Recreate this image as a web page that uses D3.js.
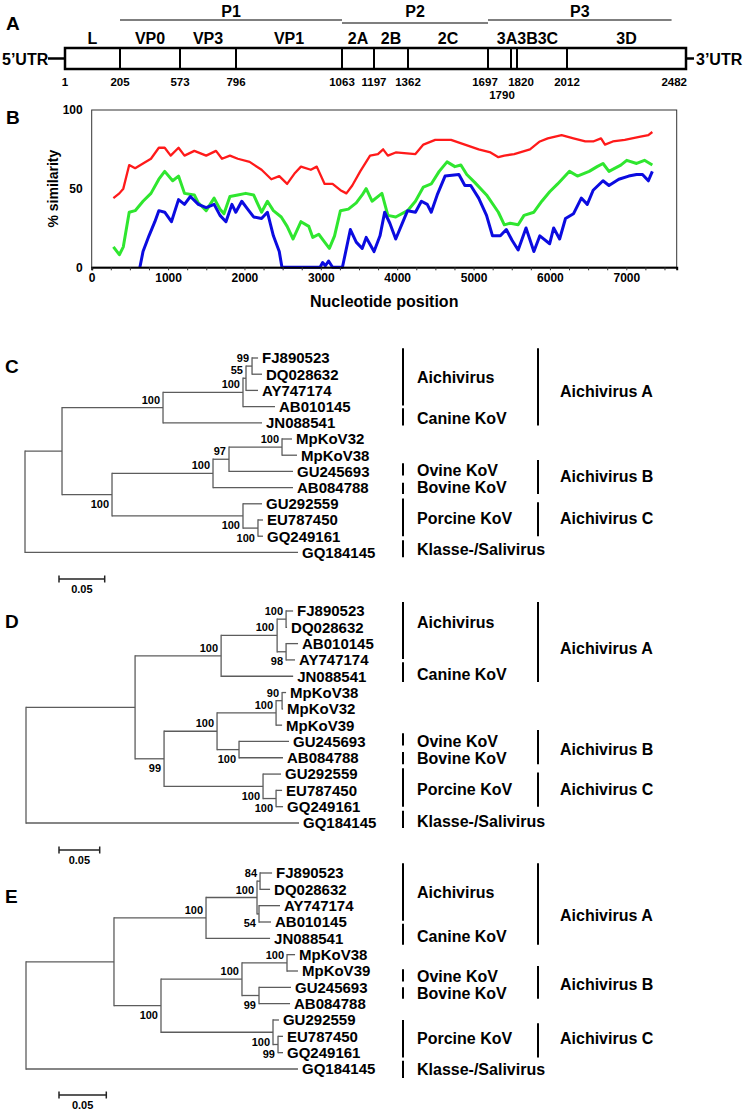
<!DOCTYPE html>
<html><head><meta charset="utf-8">
<script src="https://cdn.jsdelivr.net/npm/d3@7"></script>
<style>
body{margin:0;background:#fff}
svg{display:block}
text{font-family:"Liberation Sans",Arial,Helvetica,sans-serif;font-weight:bold;fill:#000}
</style>
</head><body>
<svg id="fig" width="745" height="1113"></svg>
<script>
// ---------------- Panel A data ----------------
const genomeBounds = [1, 205, 573, 796, 1063, 1197, 1362, 1697, 1790, 1820, 2012, 2482];
const genomeRegions = [["L",1,205],["VP0",205,573],["VP3",573,796],["VP1",796,1063],["2A",1063,1197],["2B",1197,1362],["2C",1362,1697],["3A3B3C",1697,2012],["3D",2012,2482]];
const polyproteins = [["P1",205,1063],["P2",1063,1697],["P3",1697,2425]];
const boundaryLabels = [1,205,573,796,1063,1197,1362,1697,1820,2012,2482];
const lowerBoundaryLabels = [1790];

// ---------------- Panel B data ----------------
const xTicksB = [0,1000,2000,3000,4000,5000,6000,7000];
const yTicksB = [0,50,100];
const seriesRed = [[284,44],[362,47],[414,50],[491,65],[569,63],[672,66],[776,69],[879,76],[956,76],[1034,71],[1137,76],[1215,71],[1344,74],[1499,71],[1628,74],[1706,69],[1810,71],[1913,69],[2068,67],[2224,62],[2352,56],[2456,58],[2559,53],[2662,60],[2740,64],[2869,62],[2947,64],[3050,53],[3154,53],[3257,49],[3335,47],[3412,52],[3516,61],[3645,71],[3748,72],[3816,75],[3878,71],[3981,73],[4239,72],[4343,78],[4498,81],[4705,81],[4886,78],[5067,75],[5222,73],[5325,70],[5403,71],[5532,72],[5739,75],[5868,80],[5972,82],[6153,84],[6308,82],[6463,80],[6566,80],[6669,82],[6721,78],[6824,80],[6980,81],[7186,83],[7289,84],[7341,86]];
const seriesGreen = [[284,13],[362,8],[414,13],[491,35],[569,36],[672,42],[776,47],[879,56],[956,61],[1060,55],[1137,58],[1215,47],[1344,46],[1396,41],[1499,36],[1603,44],[1680,37],[1732,34],[1810,45],[1913,46],[2017,47],[2120,46],[2224,35],[2301,42],[2379,36],[2482,32],[2559,26],[2637,18],[2740,29],[2843,26],[2895,19],[2973,21],[3050,16],[3112,12],[3180,20],[3257,36],[3361,37],[3464,41],[3542,46],[3594,50],[3671,42],[3800,47],[3878,33],[3981,32],[4136,36],[4239,42],[4343,51],[4446,53],[4550,61],[4653,67],[4756,64],[4834,65],[4911,59],[5015,54],[5170,46],[5325,35],[5403,27],[5480,28],[5584,27],[5661,33],[5790,35],[5894,42],[5997,48],[6101,53],[6256,61],[6360,58],[6514,61],[6618,64],[6695,66],[6773,61],[6928,65],[7006,68],[7135,66],[7238,68],[7341,65]];
const seriesBlue = [[631,0],[672,10],[750,20],[827,29],[879,36],[956,35],[1044,29],[1137,43],[1215,40],[1292,45],[1396,40],[1499,38],[1603,40],[1680,33],[1758,29],[1836,40],[1887,35],[1965,42],[2042,37],[2120,32],[2224,31],[2301,35],[2379,20],[2456,10],[2491,0],[2990,0],[3024,3],[3060,1],[3102,4],[3154,0],[3283,0],[3387,24],[3464,16],[3542,12],[3594,19],[3697,10],[3775,20],[3836,35],[3904,28],[3981,18],[4058,27],[4136,36],[4239,35],[4317,42],[4394,40],[4446,35],[4524,46],[4627,58],[4808,59],[4886,52],[4963,52],[5067,44],[5170,33],[5248,20],[5351,20],[5429,24],[5506,17],[5584,11],[5687,25],[5790,10],[5868,20],[5997,15],[6049,25],[6127,18],[6204,31],[6308,34],[6411,44],[6489,40],[6566,49],[6695,55],[6773,52],[6902,56],[7032,58],[7135,59],[7212,59],[7289,55],[7341,61]];

// ---------------- Panels C, D, E data (Newick, bootstrap as node labels) ----------------
const treeC = "((((((FJ890523:0.0066,DQ028632:0.0109)99:0.0066,AY747174:0.0131)55:0.0033,AB010145:0.035)100:0.0875,JN088541:0.1083)100:0.1105,((((MpKoV32:0.0109,MpKoV38:0.0164)100:0.058,GU245693:0.07)97:0.0175,AB084788:0.0875)100:0.1105,(GU292559:0.0208,(EU787450:0.0055,GQ249161:0.0055)100:0.0164)100:0.1433)100:0.0547):0.0405,GQ184145:0.2987);";
const treeD = "(((((FJ890523:0.0086,DQ028632:0.0012)100:0.011,(AB010145:0.0147,AY747174:0.011)98:0.011)100:0.0688,JN088541:0.0885)100:0.1057,((((MpKoV38:0.0049,MpKoV32:0.0012)90:0.0074,MpKoV39:0.0074)100:0.0725,(GU245693:0.0614,AB084788:0.054)100:0.027)100:0.0651,(GU292559:0.0221,(EU787450:0.0074,GQ249161:0.0086)100:0.016)100:0.1216)99:0.0356):0.134,GQ184145:0.3354);";
const treeE = "(((((FJ890523:0.0127,DQ028632:0.0106)84:0.0032,(AY747174:0.0222,AB010145:0.0127)54:0.0021)100:0.0539,JN088541:0.0677)100:0.0973,(((MpKoV38:0.0085,MpKoV39:0.0116)100:0.0476,(GU245693:0.0338,AB084788:0.0328)99:0.018)100:0.0856,(GU292559:0.0063,(EU787450:0.0053,GQ249161:0.0053)99:0.0053)100:0.1184)100:0.0497):0.093,GQ184145:0.2875);";
const scaleBarValue = 0.05;

// clade annotations: [label, column, fromLeafIndex, toLeafIndex, labelAtLeafIndex]
const cladesC = [["Aichivirus",1,-0.6,2.93,1.17],["Canine KoV",1,3.1,4.16,3.7],["Aichivirus A",2,-0.6,4.16,2.05],["Ovine KoV",1,6.5,7.25,6.9],["Bovine KoV",1,7.7,8.4,8.0],["Aichivirus B",2,6.3,8.4,7.3],["Porcine KoV",1,8.67,11.0,9.9],["Aichivirus C",2,8.9,11.0,9.9],["Klasse-/Salivirus",1,11.25,12.3,11.8]];
const cladesD = [["Aichivirus",1,-0.55,2.95,0.7],["Canine KoV",1,3.15,4.35,3.9],["Aichivirus A",2,-0.55,4.35,2.3],["Ovine KoV",1,7.5,8.25,8.0],["Bovine KoV",1,8.65,9.4,9.0],["Aichivirus B",2,7.3,9.4,8.5],["Porcine KoV",1,9.65,12.0,10.9],["Aichivirus C",2,9.9,12.0,10.9],["Klasse-/Salivirus",1,12.25,13.3,12.9]];
const cladesE = [["Aichivirus",1,-0.6,2.93,1.2],["Canine KoV",1,3.1,4.4,3.9],["Aichivirus A",2,-0.6,4.4,2.6],["Ovine KoV",1,5.9,6.65,6.3],["Bovine KoV",1,7.0,7.7,7.35],["Aichivirus B",2,5.7,7.7,6.8],["Porcine KoV",1,9.0,11.3,10.1],["Aichivirus C",2,9.2,11.3,10.1],["Klasse-/Salivirus",1,11.5,12.55,12.0]];
// support labels drawn below the branch (node identified by first|last leaf)
const belowC = ["MpKoV32|GQ249161","GU292559|GQ249161","EU787450|GQ249161"];
const belowD = ["AB010145|AY747174","MpKoV38|GQ249161","GU245693|AB084788","GU292559|GQ249161","EU787450|GQ249161"];
const belowE = ["AY747174|AB010145","MpKoV38|GQ249161","GU245693|AB084788","GU292559|GQ249161","EU787450|GQ249161"];

// =====================================================================
const svg = d3.select("#fig");

function panelLabel(t, x, y){
  svg.append("text").attr("x",x).attr("y",y).attr("font-size",19).text(t);
}

// ---------------- Panel A (schematic, piecewise genome scale) ----------------
(function(){
  const g = svg.append("g");
  const x = d3.scaleLinear().domain(genomeBounds)
    .range([65,120,180,236,342,374,408,488,511,517,567,686]);
  const labelShift = {1697:-3, 1820:4};
  const boxTop = 48, boxBot = 69, mid = (boxTop+boxBot)/2;
  panelLabel("A", 6, 30);
  polyproteins.forEach((p,i)=>{
    const ly = i===1 ? 23 : 20;
    g.append("line").attr("x1",x(p[1])).attr("x2",x(p[2])).attr("y1",ly).attr("y2",ly).attr("stroke","#000").attr("stroke-width",1.2);
    g.append("text").attr("x",(x(p[1])+x(p[2]))/2).attr("y",17).attr("text-anchor","middle").attr("font-size",16).text(p[0]);
  });
  genomeRegions.forEach(r=>{
    g.append("text").attr("x",(x(r[1])+x(r[2]))/2).attr("y",44).attr("text-anchor","middle").attr("font-size",16).text(r[0]);
  });
  g.append("line").attr("x1",48).attr("x2",x(1)).attr("y1",mid).attr("y2",mid).attr("stroke","#000").attr("stroke-width",2.5);
  g.append("line").attr("x1",x(2482)).attr("x2",x(2482)+8).attr("y1",mid).attr("y2",mid).attr("stroke","#000").attr("stroke-width",2.5);
  g.append("text").attr("x",2).attr("y",mid+6).attr("font-size",16).text("5\u2019UTR");
  g.append("text").attr("x",x(2482)+10).attr("y",mid+6).attr("font-size",16).text("3\u2019UTR");
  g.append("rect").attr("x",x(1)).attr("y",boxTop).attr("width",x(2482)-x(1)).attr("height",boxBot-boxTop).attr("fill","none").attr("stroke","#000").attr("stroke-width",2.5);
  genomeBounds.slice(1,-1).forEach(b=>{
    g.append("line").attr("x1",x(b)).attr("x2",x(b)).attr("y1",boxTop).attr("y2",boxBot).attr("stroke","#000").attr("stroke-width",2);
  });
  boundaryLabels.forEach((b,i)=>{
    const last = i===boundaryLabels.length-1;
    g.append("text").attr("x",last ? x(b)+1 : x(b)+(labelShift[b]||0)).attr("y",86)
      .attr("text-anchor",last ? "end" : "middle").attr("font-size",11.5).text(b);
  });
  lowerBoundaryLabels.forEach(b=>{
    g.append("text").attr("x",x(b)-9).attr("y",99).attr("text-anchor","middle").attr("font-size",11.5).text(b);
  });
})();

// ---------------- Panel B ----------------
(function(){
  const g = svg.append("g");
  const x = d3.scaleLinear().domain([0,7660]).range([91.7,676.7]);
  const y = d3.scaleLinear().domain([0,100]).range([267.3,110]);
  panelLabel("B", 6, 124);
  g.append("rect").attr("x",x(0)).attr("y",y(100)).attr("width",x(7660)-x(0)).attr("height",y(0)-y(100))
    .attr("fill","none").attr("stroke","#333").attr("stroke-width",1);
  const line = d3.line().x(d=>x(d[0])).y(d=>y(d[1]));
  [[seriesRed,"#ff1a1a",2.3],[seriesGreen,"#2fe62f",3],[seriesBlue,"#0b0be0",3]].forEach(s=>{
    g.append("path").datum(s[0]).attr("d",line).attr("fill","none").attr("stroke",s[1]).attr("stroke-width",s[2]).attr("stroke-linejoin","round");
  });
  const ax = g.append("g").attr("transform",`translate(0,${y(0)})`)
    .call(d3.axisBottom(x).tickValues(d3.range(0,7660,250)).tickSize(3).tickPadding(3)
      .tickFormat(v=> xTicksB.includes(v) ? v : ""));
  ax.select(".domain").attr("stroke","#000").attr("stroke-width",2);
  ax.selectAll(".tick line").attr("stroke","#333");
  ax.selectAll(".tick text").attr("font-size",12).attr("font-family","Liberation Sans, Arial, sans-serif").attr("font-weight","bold");
  const ay = g.append("g").attr("transform",`translate(${x(0)},0)`)
    .call(d3.axisLeft(y).tickValues(yTicksB).tickSize(0).tickPadding(9));
  ay.select(".domain").remove();
  ay.selectAll(".tick text").attr("font-size",12).attr("font-family","Liberation Sans, Arial, sans-serif").attr("font-weight","bold");
  g.append("text").attr("transform",`translate(58,${y(50)}) rotate(-90)`).attr("text-anchor","middle").attr("font-size",14).text("% similarity");
  g.append("text").attr("x",(x(0)+x(7660))/2).attr("y",307).attr("text-anchor","middle").attr("font-size",16).text("Nucleotide position");
})();

// ---------------- Trees ----------------
function parseNewick(s){
  let i=0;
  function node(){
    const n={children:[],name:"",length:0};
    if(s[i]==='('){
      i++;
      n.children.push(node());
      while(s[i]===','){i++; n.children.push(node());}
      i++;
    }
    let lab="";
    while(i<s.length && !",():;".includes(s[i])) lab+=s[i++];
    n.name=lab;
    if(s[i]===':'){
      i++; let num="";
      while(i<s.length && !",();".includes(s[i])) num+=s[i++];
      n.length=+num;
    }
    return n;
  }
  return node();
}

const colBarX = {1:403, 2:538};
const colTextX = {1:417, 2:560};

function drawTree(cfg){
  const g = svg.append("g");
  panelLabel(cfg.label, 5, cfg.labelY);
  const root = d3.hierarchy(parseNewick(cfg.newick), d=>d.children.length?d.children:null);
  const leaves = root.leaves();
  const y = d3.scaleLinear().domain([0, leaves.length-1]).range(cfg.yRange);
  const x = d3.scaleLinear().domain([0,1]).range([cfg.x0, cfg.x0+cfg.pxPerUnit]);
  root.each(d=>{ d.dist = d.parent ? d.parent.dist + d.data.length : 0; });
  leaves.forEach((l,i)=>{ l.yy = y(i); });
  root.eachAfter(d=>{ if(d.children){ d.yy = (d.children[0].yy + d.children[d.children.length-1].yy)/2; }});
  const stroke = "#5c5c5c", sw = 1.3;
  root.descendants().forEach(d=>{
    if(d.parent){
      g.append("line").attr("x1",x(d.parent.dist)).attr("x2",x(d.dist)).attr("y1",d.yy).attr("y2",d.yy)
        .attr("stroke",stroke).attr("stroke-width",sw);
    }
    if(d.children){
      g.append("line").attr("x1",x(d.dist)).attr("x2",x(d.dist))
        .attr("y1",d.children[0].yy).attr("y2",d.children[d.children.length-1].yy)
        .attr("stroke",stroke).attr("stroke-width",sw).attr("stroke-linecap","square");
      if(d.data.name && d.parent){
        const lv = d.leaves();
        const key = lv[0].data.name + "|" + lv[lv.length-1].data.name;
        const below = cfg.below.includes(key);
        g.append("text").attr("x",x(d.dist)-3).attr("y", below ? d.yy+13.5 : d.yy-4)
          .attr("text-anchor","end").attr("font-size",11).text(d.data.name);
      }
    } else {
      g.append("text").attr("x",x(d.dist)+4).attr("y",d.yy).attr("dy","0.36em").attr("font-size",15).text(d.data.name);
    }
  });
  const sb = g.append("g");
  const x1 = cfg.scaleX, x2 = cfg.scaleX + (x(scaleBarValue)-x(0));
  sb.append("line").attr("x1",x1).attr("x2",x2).attr("y1",cfg.scaleY).attr("y2",cfg.scaleY).attr("stroke","#222").attr("stroke-width",1.5);
  [x1,x2].forEach(v=> sb.append("line").attr("x1",v).attr("x2",v).attr("y1",cfg.scaleY-3.5).attr("y2",cfg.scaleY+3.5).attr("stroke","#222").attr("stroke-width",1.5));
  sb.append("text").attr("x",(x1+x2)/2).attr("y",cfg.scaleY+14).attr("text-anchor","middle").attr("font-size",11).text(scaleBarValue);
  cfg.clades.forEach(c=>{
    g.append("line").attr("x1",colBarX[c[1]]).attr("x2",colBarX[c[1]]).attr("y1",y(c[2])).attr("y2",y(c[3]))
      .attr("stroke","#000").attr("stroke-width",2);
    g.append("text").attr("x",colTextX[c[1]]).attr("y",y(c[4])).attr("dy","0.36em").attr("font-size",16).text(c[0]);
  });
}

drawTree({label:"C", labelY:373, newick:treeC, yRange:[358,552.4], x0:25, pxPerUnit:914, below:belowC, clades:cladesC, scaleX:59, scaleY:579});
drawTree({label:"D", labelY:628, newick:treeD, yRange:[611,823], x0:26, pxPerUnit:814, below:belowD, clades:cladesD, scaleX:59, scaleY:850});
drawTree({label:"E", labelY:903, newick:treeE, yRange:[873,1069], x0:26, pxPerUnit:946, below:belowE, clades:cladesE, scaleX:59, scaleY:1095});
</script>
</body></html>
